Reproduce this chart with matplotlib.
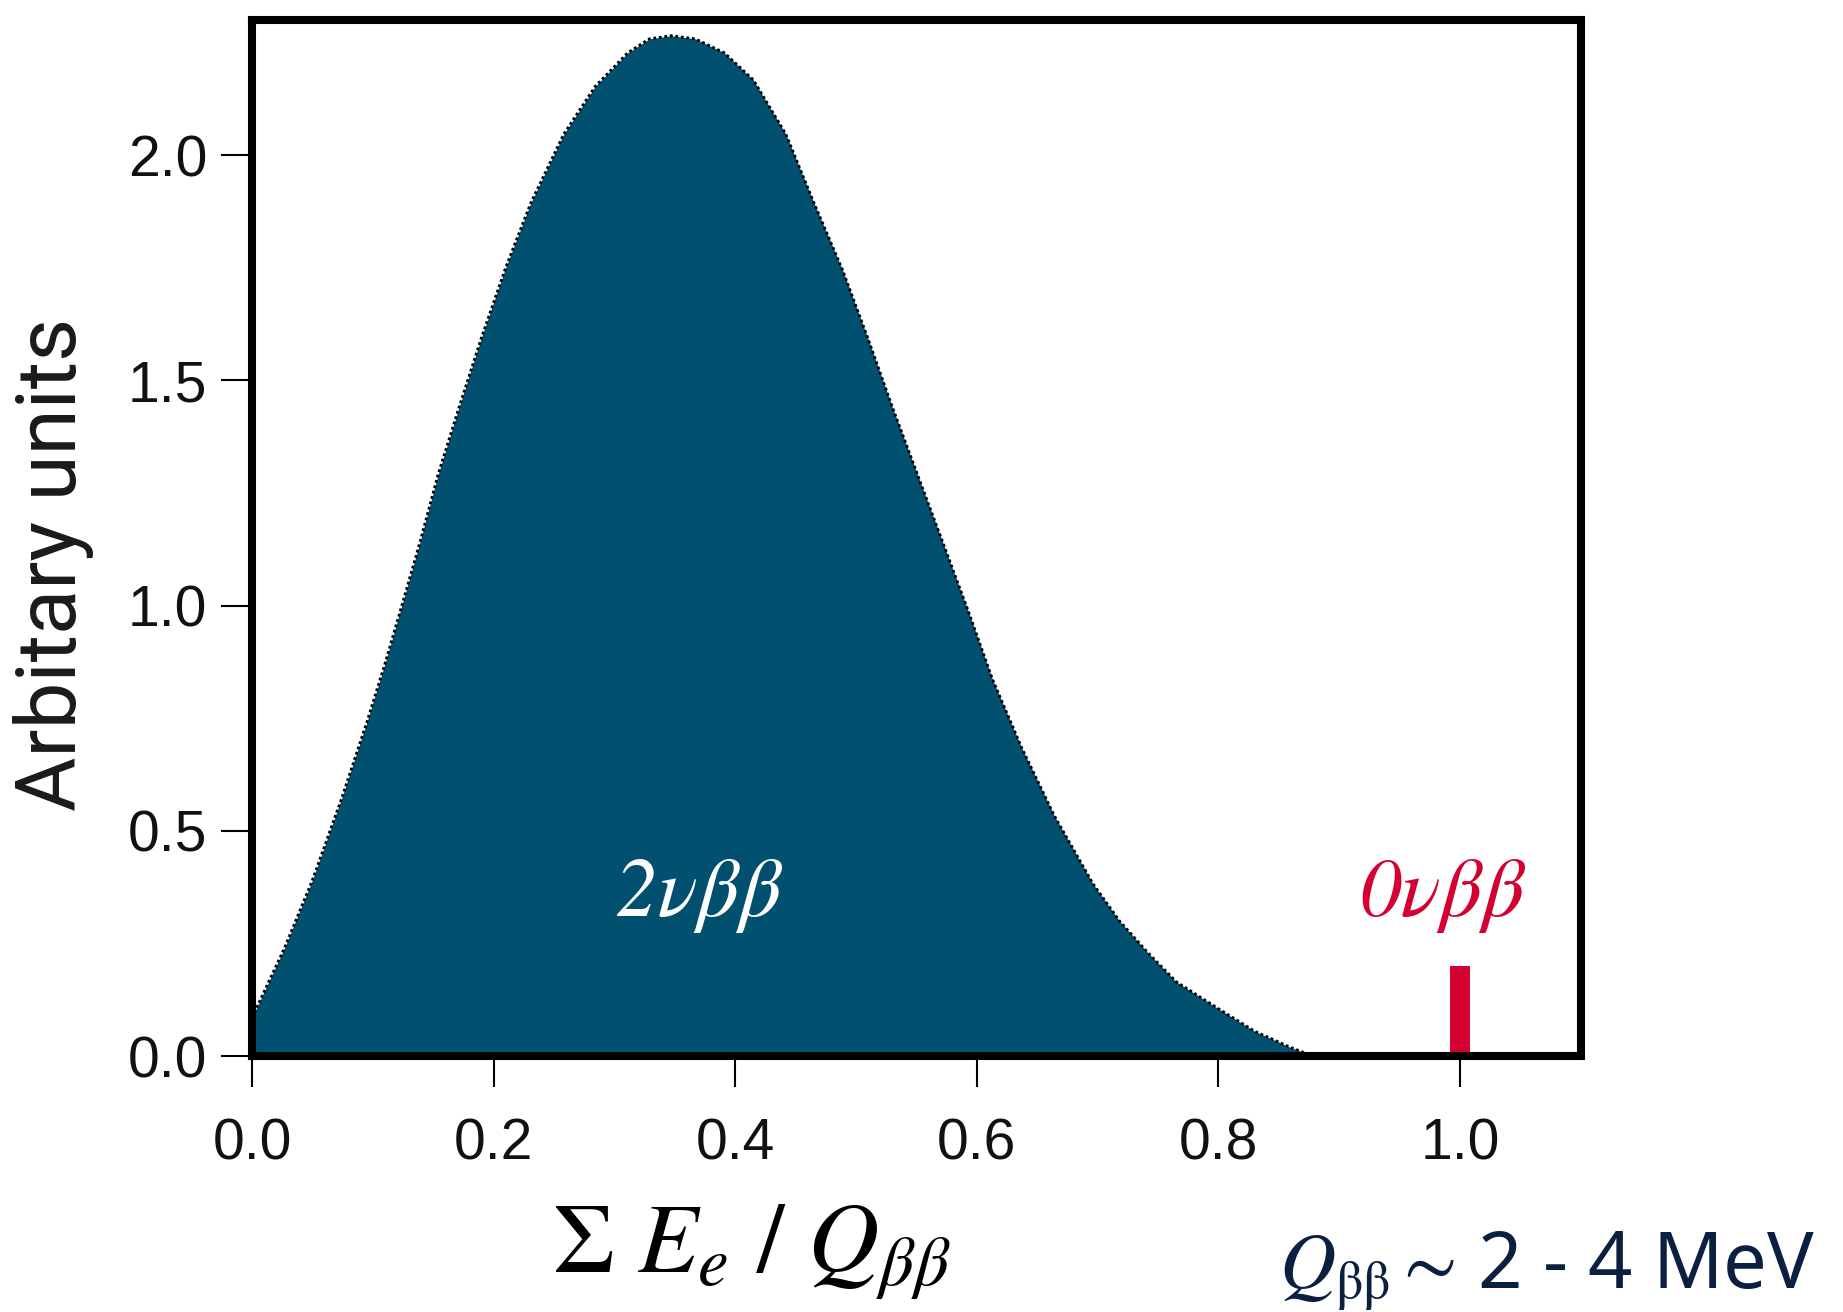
import numpy as np
import matplotlib.pyplot as plt

plt.rcParams['mathtext.fontset'] = 'stix'

# summed electron energy spectrum (2vbb), read as x / amplitude pairs
energia = [0.0, 0.027, 0.050, 0.074, 0.095, 0.110, 0.123, 0.139, 0.154, 0.172,
           0.190, 0.210, 0.231, 0.258, 0.284, 0.311, 0.329, 0.347, 0.367, 0.391,
           0.415, 0.442, 0.465, 0.489, 0.510, 0.530, 0.551, 0.572, 0.593, 0.613,
           0.637, 0.664, 0.696, 0.718, 0.741, 0.765, 0.800, 0.830, 0.859, 0.878,
           1.10]
espectro = [0.085, 0.240, 0.390, 0.570, 0.740, 0.870, 0.990, 1.140, 1.290, 1.445,
            1.595, 1.750, 1.895, 2.046, 2.152, 2.227, 2.258, 2.265, 2.258, 2.227,
            2.167, 2.046, 1.895, 1.744, 1.592, 1.441, 1.290, 1.139, 0.987, 0.836,
            0.685, 0.534, 0.383, 0.300, 0.231, 0.165, 0.105, 0.055, 0.020, 0.0,
            0.0]

# 0vbb line at the endpoint
pico_x = [1.0]
pico_h = [0.20]

xticks = [0.0, 0.2, 0.4, 0.6, 0.8, 1.0]
yticks = [0.0, 0.5, 1.0, 1.5, 2.0]

azul = '#02506f'
rojo = '#d50032'
marino = '#0b1f40'

fig = plt.figure(figsize=(18.43, 13.12), dpi=100)
ax = fig.add_axes([0.1367, 0.1951, 0.7211, 0.7897])

ax.fill_between(energia, espectro, 0, color=azul, lw=0, zorder=2)
ax.plot(energia, espectro, color='black', lw=2.0, ls=(0, (1, 1)), zorder=3)
ax.bar(pico_x, pico_h, width=0.016, color=rojo, zorder=2)

ax.text(0.37, 0.31, '2νββ', color='white', fontsize=60, ha='center',
        va='baseline', family='STIXGeneral', style='italic')
ax.text(0.985, 0.31, '0νββ', color=rojo, fontsize=60, ha='center',
        va='baseline', family='STIXGeneral', style='italic')

ax.set_xlim(0, 1.1)
ax.set_ylim(0, 2.3)
ax.set_xticks(xticks)
ax.set_yticks(yticks)
ax.set_xticklabels([f'{t:.1f}' for t in xticks])
ax.set_yticklabels([f'{t:.1f}' for t in yticks])

for s in ax.spines.values():
    s.set_linewidth(5.8)
    s.set_zorder(5)
ax.tick_params(direction='out', length=22, width=1.5, labelsize=41,
               color='black')
ax.tick_params(axis='x', pad=22)
ax.tick_params(axis='y', pad=10)
for lab in ax.get_xticklabels() + ax.get_yticklabels():
    lab.set_family('Liberation Sans')
    lab.set_color('#111111')

fig.text(0.029, 0.570, 'Arbitary units', rotation=90, ha='center',
         va='center', fontsize=60, family='Roboto', color='#1a1a1a')

fig.text(0.408, 0.0297, r'$\Sigma\ E_e\ /\ Q_{\beta\beta}$', fontsize=71,
         ha='center', va='baseline')

fig.text(0.985, 0.018, r'$Q_{\mathrm{\beta\beta}}{\sim}\,$2 - 4 MeV',
         fontsize=56, ha='right', va='baseline', family='Noto Sans',
         color=marino)

fig.savefig('out.png', dpi=100)
